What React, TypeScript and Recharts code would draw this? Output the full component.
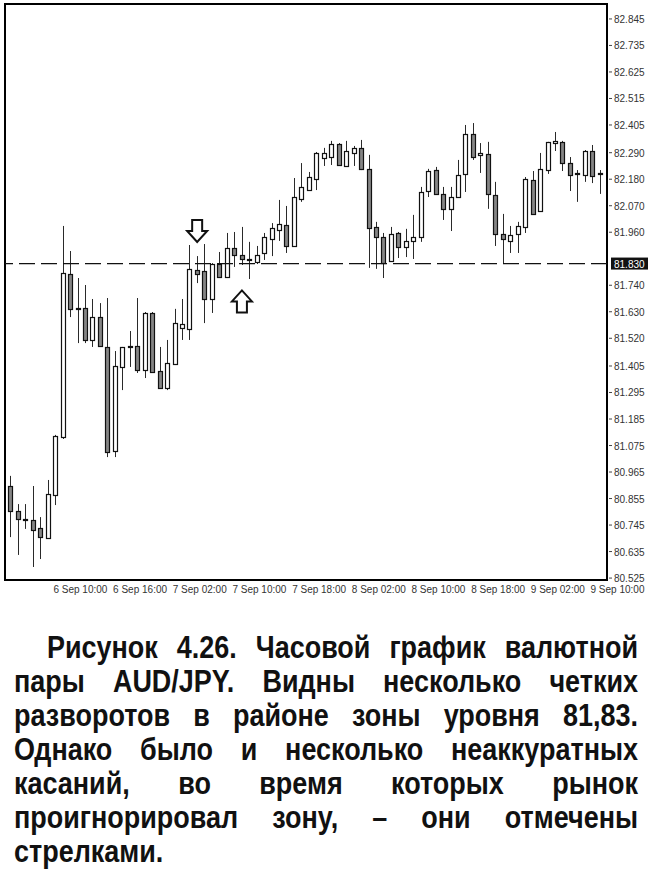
import React from 'react';
import {
  ComposedChart,
  Bar,
  XAxis,
  YAxis,
  ReferenceLine,
  ReferenceArea,
  ReferenceDot,
} from 'recharts';

// ---- Data (AUD/JPY, H1 candles) ----
const opens = [
  80.907, 80.803, 80.770, 80.766, 80.733, 80.691, 80.870, 81.110, 81.787, 81.646,
  81.646, 81.513, 81.608, 81.484, 81.052, 81.401, 81.484, 81.488, 81.388, 81.625,
  81.384, 81.314, 81.413, 81.563, 81.559, 81.803, 81.799, 81.683, 81.828, 81.774,
  81.895, 81.866, 81.849, 81.837, 81.874, 81.932, 81.969, 81.990, 81.903, 82.098,
  82.135, 82.181, 82.268, 82.272, 82.326, 82.235, 82.289, 82.310, 82.223, 81.982,
  81.940, 81.841, 81.957, 81.899, 81.924, 81.940, 82.131, 82.218, 82.119, 82.057,
  82.106, 82.202, 82.368, 82.281, 82.285, 82.115, 81.953, 81.924, 81.953, 81.982,
  82.177, 82.048, 82.218, 82.330, 82.335, 82.247, 82.206, 82.198, 82.297, 82.202,
];
const highs = [
  80.949, 80.832, 80.832, 80.907, 80.778, 80.932, 81.119, 81.986, 81.882, 81.770,
  81.741, 81.683, 81.666, 81.687, 81.467, 81.484, 81.550, 81.687, 81.629, 81.629,
  81.484, 81.513, 81.642, 81.683, 81.907, 81.861, 81.911, 81.832, 81.878, 81.957,
  81.961, 81.982, 81.920, 81.903, 81.957, 81.998, 82.094, 82.069, 82.185, 82.247,
  82.210, 82.293, 82.310, 82.339, 82.330, 82.339, 82.318, 82.343, 82.281, 82.003,
  81.957, 81.982, 81.961, 81.974, 82.032, 82.148, 82.223, 82.231, 82.148, 82.148,
  82.260, 82.405, 82.413, 82.330, 82.335, 82.169, 82.036, 81.986, 82.003, 82.189,
  82.214, 82.289, 82.335, 82.376, 82.339, 82.272, 82.218, 82.301, 82.322, 82.218,
];
const lows = [
  80.695, 80.621, 80.729, 80.571, 80.604, 80.688, 80.828, 81.102, 81.608, 81.500,
  81.500, 81.484, 81.484, 81.027, 81.027, 81.305, 81.401, 81.376, 81.355, 81.376,
  81.310, 81.305, 81.409, 81.513, 81.513, 81.749, 81.583, 81.625, 81.770, 81.770,
  81.816, 81.824, 81.766, 81.828, 81.845, 81.861, 81.924, 81.874, 81.900, 82.086,
  82.132, 82.135, 82.235, 82.239, 82.235, 82.233, 82.235, 82.218, 81.812, 81.808,
  81.770, 81.837, 81.853, 81.857, 81.849, 81.920, 82.106, 82.119, 82.011, 81.965,
  82.104, 82.127, 82.260, 82.206, 82.057, 81.903, 81.832, 81.874, 81.874, 81.957,
  82.032, 82.046, 82.202, 82.297, 82.214, 82.131, 82.086, 82.169, 82.164, 82.119,
];
const closes = [
  80.803, 80.770, 80.768, 80.724, 80.695, 80.874, 81.114, 81.791, 81.642, 81.644,
  81.513, 81.608, 81.488, 81.048, 81.405, 81.484, 81.488, 81.388, 81.625, 81.380,
  81.314, 81.417, 81.583, 81.579, 81.808, 81.787, 81.683, 81.828, 81.774, 81.895,
  81.866, 81.849, 81.845, 81.866, 81.940, 81.978, 81.994, 81.903, 82.106, 82.148,
  82.189, 82.290, 82.289, 82.326, 82.237, 82.297, 82.310, 82.223, 81.978, 81.940,
  81.832, 81.953, 81.899, 81.924, 81.940, 82.127, 82.214, 82.119, 82.057, 82.106,
  82.198, 82.368, 82.272, 82.289, 82.119, 81.953, 81.932, 81.949, 81.986, 82.181,
  82.036, 82.223, 82.333, 82.339, 82.247, 82.198, 82.202, 82.297, 82.194, 82.206,
];

const xTickIndex = [6, 14, 22, 30, 38, 46, 54, 62, 70, 78];
const xTickLabels = [
  '6 Sep 10:00', '6 Sep 16:00', '7 Sep 02:00', '7 Sep 10:00', '7 Sep 18:00',
  '8 Sep 02:00', '8 Sep 10:00', '8 Sep 18:00', '9 Sep 02:00', '9 Sep 10:00',
];
const yTicks = [
  82.845, 82.735, 82.625, 82.515, 82.405, 82.29, 82.18, 82.07, 81.96, 81.83, 81.74,
  81.63, 81.52, 81.405, 81.295, 81.185, 81.075, 80.965, 80.855, 80.745, 80.635, 80.525,
];
const yTickLabels = [
  '82.845', '82.735', '82.625', '82.515', '82.405', '82.290', '82.180', '82.070', '81.960',
  '81.830', '81.740', '81.630', '81.520', '81.405', '81.295', '81.185', '81.075', '80.965',
  '80.855', '80.745', '80.635', '80.525',
];
const levelPrice = 81.83;
const arrowMarks = [
  { index: 25, price: 81.965, dir: 'down' },
  { index: 31, price: 81.673, dir: 'up' },
];
const captionLines = [
  'Рисунок 4.26. Часовой график валютной',
  'пары AUD/JPY. Видны несколько четких',
  'разворотов в районе зоны уровня 81,83.',
  'Однако было и несколько неаккуратных',
  'касаний, во время которых рынок',
  'проигнорировал зону, – они отмечены',
  'стрелками.',
];

const X_DOMAIN: [number, number] = [-0.76, 79.94];
const Y_DOMAIN: [number, number] = [80.517, 82.907];
const CAPTION_SQUEEZE = 0.87;

const data = opens.map((o, i) => ({
  i,
  open: o,
  high: highs[i],
  low: lows[i],
  close: closes[i],
  range: [lows[i], highs[i]],
}));

const Candle = (props: any) => {
  const { x, y, width, height, payload } = props;
  if (!payload || width == null) return null;
  const { open, close, high, low } = payload;
  const top = Math.min(y, y + height);
  const h = Math.abs(height);
  const k = high - low > 0 ? h / (high - low) : 0;
  const py = (v: number) => top + (high - v) * k;
  const cx = Math.round(x + width / 2) + 0.5;
  const bTop = Math.round(py(Math.max(open, close))) + 0.5;
  const bBot = Math.round(py(Math.min(open, close))) + 0.5;
  const bull = close >= open;
  return (
    <g>
      <line x1={cx} x2={cx} y1={top} y2={top + h} stroke="#2a2a2a" strokeWidth={1} />
      <rect
        x={cx - 2}
        y={bTop}
        width={4}
        height={Math.max(bBot - bTop, 1)}
        fill={bull ? '#ffffff' : '#858585'}
        stroke="#111"
        strokeWidth={1.2}
      />
    </g>
  );
};

const YTick = (props: any) => {
  const { x, y, payload } = props;
  const idx = yTicks.indexOf(payload.value);
  const label = idx >= 0 ? yTickLabels[idx] : String(payload.value);
  if (payload.value === levelPrice) {
    return (
      <g>
        <rect x={x + 2} y={y - 6} width={37} height={12} fill="#111" />
        <text x={x + 5} y={y + 4} fontSize={10} fill="#fff" fontFamily="'Liberation Sans', Arial, sans-serif">
          {label}
        </text>
      </g>
    );
  }
  return (
    <g>
      <line x1={x} x2={x + 3} y1={y} y2={y} stroke="#444" />
      <text x={x + 5} y={y + 4} fontSize={10} fill="#333" fontFamily="'Liberation Sans', Arial, sans-serif">
        {label}
      </text>
    </g>
  );
};

const XTick = (props: any) => {
  const { x, y, payload } = props;
  const idx = xTickIndex.indexOf(payload.value);
  const label = idx >= 0 ? xTickLabels[idx] : '';
  return (
    <text x={x - 2} y={y + 11} fontSize={10} fill="#333" textAnchor="start" fontFamily="'Liberation Sans', Arial, sans-serif">
      {label}
    </text>
  );
};

const Arrow = (props: any) => {
  const { cx, cy, dir } = props;
  if (cx == null || cy == null) return null;
  let pts: number[][];
  if (dir === 'down') {
    pts = [
      [cx - 5, cy - 11], [cx + 5, cy - 11], [cx + 5, cy], [cx + 10, cy],
      [cx, cy + 11], [cx - 10, cy], [cx - 5, cy],
    ];
  } else {
    pts = [
      [cx - 5, cy + 11], [cx + 5, cy + 11], [cx + 5, cy], [cx + 10, cy],
      [cx, cy - 11], [cx - 10, cy], [cx - 5, cy],
    ];
  }
  return (
    <polygon
      points={pts.map((p) => p.join(',')).join(' ')}
      fill="#fff"
      stroke="#111"
      strokeWidth={2}
      strokeLinejoin="miter"
    />
  );
};

export default function App() {
  return (
    <div
      style={{
        position: 'absolute',
        left: 0,
        top: 0,
        width: 650,
        height: 870,
        background: '#fff',
        overflow: 'hidden',
      }}
    >
      <ComposedChart
        width={650}
        height={600}
        data={data}
        margin={{ top: 4, left: 5, right: 0, bottom: 0 }}
      >
        <XAxis
          dataKey="i"
          type="number"
          domain={X_DOMAIN}
          allowDataOverflow
          ticks={xTickIndex}
          interval={0}
          height={20}
          axisLine={false}
          tickLine={false}
          tickSize={0}
          tick={<XTick />}
        />
        <YAxis
          orientation="right"
          type="number"
          domain={Y_DOMAIN}
          allowDataOverflow
          ticks={yTicks}
          interval={0}
          width={43}
          axisLine={false}
          tickLine={false}
          tickSize={0}
          tick={<YTick />}
        />
        <ReferenceLine
          y={levelPrice}
          stroke="#111"
          strokeWidth={1.3}
          strokeDasharray="16 6"
        />
        <Bar
          dataKey="range"
          barSize={5}
          shape={<Candle />}
          isAnimationActive={false}
        />
        {arrowMarks.map((m) => (
          <ReferenceDot
            key={m.index}
            x={m.index}
            y={m.price}
            r={10}
            shape={(p: any) => <Arrow {...p} dir={m.dir} />}
          />
        ))}
        <ReferenceArea
          x1={X_DOMAIN[0]}
          x2={X_DOMAIN[1]}
          y1={Y_DOMAIN[0]}
          y2={Y_DOMAIN[1]}
          fill="none"
          fillOpacity={0}
          stroke="#000"
          strokeWidth={2}
        />
      </ComposedChart>
      <div
        style={{
          position: 'absolute',
          left: 14,
          top: 631,
          width: 624 / CAPTION_SQUEEZE,
          transform: `scaleX(${CAPTION_SQUEEZE})`,
          transformOrigin: '0 0',
          fontFamily: "'Liberation Sans', Arial, sans-serif",
          fontWeight: 'bold',
          fontSize: 31,
          lineHeight: '34px',
          color: '#111',
        }}
      >
        {captionLines.map((line, k) => (
          <div
            key={k}
            style={{
              textAlign: k < captionLines.length - 1 ? 'justify' : 'left',
              textAlignLast: k < captionLines.length - 1 ? 'justify' : 'left',
              paddingLeft: k === 0 ? 33 / CAPTION_SQUEEZE : 0,
              whiteSpace: 'normal',
            }}
          >
            {line}
          </div>
        ))}
      </div>
    </div>
  );
}
